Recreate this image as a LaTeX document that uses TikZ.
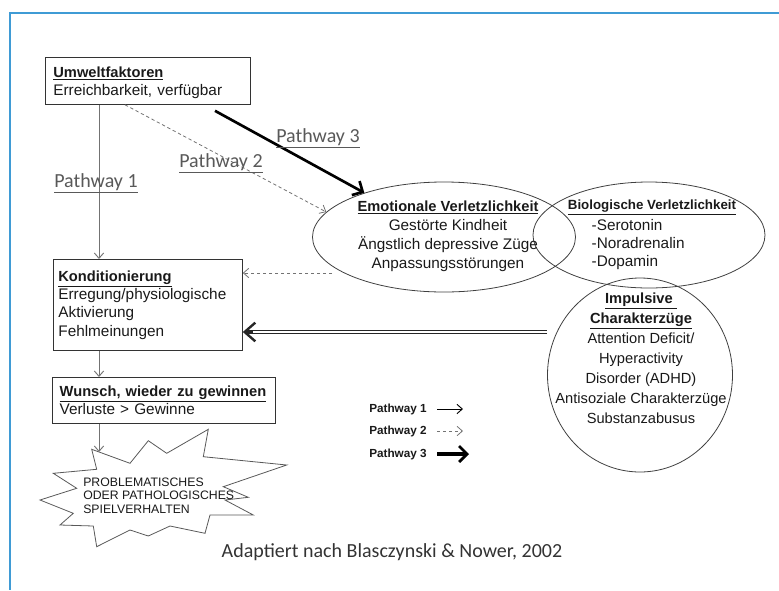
\documentclass[tikz,border=0pt]{standalone}
\usepackage{fontspec}
\setmainfont{Liberation Sans}
\newfontfamily\calibfont{Carlito}
\usetikzlibrary{arrows.meta,shapes.geometric}
\definecolor{frameblue}{HTML}{3F9BD5}
\newcommand{\hd}[1]{\underline{\textbf{\fontsize{11}{13}\selectfont #1}}}

\begin{document}
\begin{tikzpicture}[x=0.75pt, y=-0.75pt,
    font=\fontsize{11.5}{13.8}\selectfont, text=black!90,
    box/.style={draw=black!80, line width=0.6pt, anchor=north west, align=left, inner xsep=6pt, inner ysep=0pt},
    oval/.style={ellipse, draw=black!75, line width=0.6pt, inner sep=0pt},
    path1/.style={draw=black!55, line width=0.7pt, -{Straight Barb[length=4pt, width=7pt]}},
    path2/.style={draw=black!55, line width=0.6pt, dash pattern=on 2.5pt off 2pt, -{Straight Barb[length=4pt, width=7pt]}},
    path3/.style={draw=black, line width=2pt, -{Straight Barb[length=6pt, width=12pt, line width=2pt]}},
    path3dbl/.style={draw=black!85, line width=2.7pt, -{Straight Barb[length=8pt, width=14pt, line width=1.8pt]},
      postaction={draw=white, line width=0.9pt, shorten >=8pt, -}},
    plabel/.style={font=\calibfont\fontsize{15}{18}\selectfont, text=black!65},
    legend/.style={anchor=west, inner sep=0pt, font=\bfseries\fontsize{8.8}{10}\selectfont}]
  % blue frame, open to the right and bottom
  \useasboundingbox (0,0) rectangle (779,590);
  \draw[frameblue, line width=1.5pt] (779,13) -- (10,13) -- (10,590);

  % boxes on the left
  \node[box, text width=141.75pt, minimum height=35.25pt] (umwelt) at (45,57)
    {\rule{0pt}{11pt}\hd{Umweltfaktoren}\\Erreichbarkeit, verfügbar};
  \node[box, inner xsep=3.75pt, text width=134.25pt, minimum height=68.25pt] (kond) at (53,259)
    {\hd{Konditionierung}\\Erregung/physiologische\\Aktivierung\\Fehlmeinungen};
  \node[box, inner xsep=5.5pt, text width=156.25pt, minimum height=34.5pt] (wunsch) at (52,377)
    {\hd{Wunsch, wieder zu gewinnen}\\Verluste > Gewinne};

  % vulnerability ovals
  \node[oval, minimum width=197.25pt, minimum height=82.5pt] (emo) at (444,237) {};
  \node[oval, minimum width=174pt, minimum height=79.5pt] (bio) at (649,235) {};
  \node[oval, minimum width=138.75pt, minimum height=145.5pt] (imp) at (640,375) {};
  \node[align=center, font=\fontsize{11.5}{14.25}\selectfont] (emotxt) at (448,236)
    {\hd{Emotionale Verletzlichkeit}\\Gestörte Kindheit\\Ängstlich depressive Züge\\Anpassungsstörungen};
  \node (biohd) at (652,207) {\underline{\textbf{\fontsize{10}{12}\selectfont Biologische Verletzlichkeit}}};
  \node[anchor=west, align=left, font=\fontsize{11.5}{13.5}\selectfont] (biotxt) at (587,245)
    {-Serotonin\\-Noradrenalin\\-Dopamin};
  \node[align=center, font=\fontsize{11}{15}\selectfont] (imptxt) at (641,358)
    {\hd{Impulsive\ }\\\hd{Charakterzüge}\\Attention Deficit/\\Hyperactivity\\Disorder (ADHD)\\Antisoziale Charakterzüge\\Substanzabusus};

  % starburst
  \draw[draw=black!65, line width=0.6pt] (91.7,449.3) -- (130,463.3) -- (148.3,440.7) -- (166.7,453.3)
    -- (208.3,429.3) -- (203.3,456.7) -- (286.7,465) -- (223.3,486.7) -- (248.3,497.3)
    -- (225,500) -- (253.3,515) -- (210,515) -- (205,533.3) -- (170,526) -- (148.3,536)
    -- (130,530) -- (96.7,546.7) -- (93.3,526) -- (60,525) -- (73.3,513.3) -- (40,500)
    -- (76.7,488.3) -- (53.3,473.3) -- (96.7,469.3) -- cycle;
  \coordinate (bursttop) at (99,452);
  \node[anchor=west, align=left, inner sep=0pt, font=\fontsize{9.2}{10.2}\selectfont] (bursttxt) at (83,495.5)
    {PROBLEMATISCHES\\ODER PATHOLOGISCHES\\SPIELVERHALTEN};

  % pathways
  \draw[path1] ([xshift=40.5pt]umwelt.south west) -- ([xshift=34.5pt]kond.north west);
  \draw[path1] ([xshift=34.5pt]kond.south west) -- ([xshift=35.25pt]wunsch.north west);
  \draw[path1] ([xshift=35.25pt]wunsch.south west) -- (bursttop);
  \draw[path2] ([xshift=60pt]umwelt.south west) -- (emo.168);
  \draw[path3] ([xshift=127.5pt,yshift=-4.5pt]umwelt.south west) -- (emo.151);
  \draw[path2] ([xshift=15pt,yshift=-27pt]emo.west) -- ([yshift=-10.5pt]kond.north east);
  \draw[path3dbl] ([yshift=32.25pt]imp.west) -- ([yshift=-54.75pt]kond.north east);
  \node[plabel] (lp1) at (96,183) {\underline{Pathway 1}};
  \node[plabel] (lp2) at (221,163) {\underline{Pathway 2}};
  \node[plabel] (lp3) at (318,138) {\underline{Pathway 3}};

  % legend
  \node[legend] (leg1) at (369,409) {Pathway 1};
  \node[legend] (leg2) at (369,431) {Pathway 2};
  \node[legend] (leg3) at (369,454) {Pathway 3};
  \draw[path1, draw=black] (leg1.west) ++(68,0) -- ++(26,0);
  \draw[path2] (leg2.west) ++(68,0) -- ++(26,0);
  \draw[path3, line width=2.4pt] (leg3.west) ++(68,0) -- ++(32,0);

  \node[font=\calibfont\fontsize{15}{18}\selectfont, text=black!80] (cite) at (392,552)
    {Adaptiert nach Blasczynski \& Nower, 2002};
\end{tikzpicture}
\end{document}
